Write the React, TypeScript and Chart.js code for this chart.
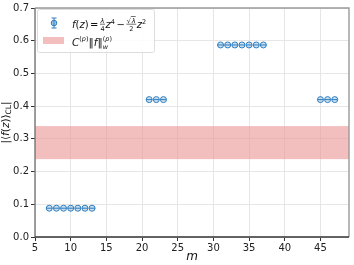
import React, { useEffect, useRef } from "react";
import { Chart, registerables } from "chart.js";

Chart.register(...registerables);

const group1M = [7, 8, 9, 10, 11, 12, 13];
const group1V = [0.088, 0.088, 0.088, 0.088, 0.088, 0.088, 0.088];
const group2M = [21, 22, 23];
const group2V = [0.42, 0.42, 0.42];
const group3M = [31, 32, 33, 34, 35, 36, 37];
const group3V = [0.587, 0.587, 0.587, 0.587, 0.587, 0.587, 0.587];
const group4M = [45, 46, 47];
const group4V = [0.42, 0.42, 0.42];
const bandLow = 0.238;
const bandHigh = 0.339;
const xTicks = [5, 10, 15, 20, 25, 30, 35, 40, 45];
const yTicks = [0, 0.1, 0.2, 0.3, 0.4, 0.5, 0.6, 0.7];

const BLUE = "#2f7fc1";
const FONT = "DejaVu Sans";

function points() {
  const out: { x: number; y: number }[] = [];
  const add = (m: number[], v: number[]) => m.forEach((x, i) => out.push({ x, y: v[i] }));
  add(group1M, group1V);
  add(group2M, group2V);
  add(group3M, group3V);
  add(group4M, group4V);
  return out;
}

const decorPlugin = {
  id: "decor",
  beforeDatasetsDraw(chart: any) {
    const { ctx, chartArea, scales } = chart;
    const y = scales.y;
    const top = y.getPixelForValue(bandHigh);
    const bot = y.getPixelForValue(bandLow);
    ctx.save();
    ctx.fillStyle = "rgba(236,150,150,0.62)";
    ctx.fillRect(chartArea.left, top, chartArea.right - chartArea.left, bot - top);
    ctx.restore();
  },
  afterDraw(chart: any) {
    const { ctx, chartArea } = chart;
    const { left, right, top, bottom } = chartArea;
    ctx.save();
    // spines
    ctx.lineWidth = 1.4;
    ctx.strokeStyle = "#9a9a9a";
    ctx.beginPath();
    ctx.moveTo(left, top);
    ctx.lineTo(right, top);
    ctx.lineTo(right, bottom);
    ctx.stroke();
    ctx.strokeStyle = "#777";
    ctx.beginPath();
    ctx.moveTo(left, top);
    ctx.lineTo(left, bottom);
    ctx.stroke();
    ctx.strokeStyle = "#333";
    ctx.beginPath();
    ctx.moveTo(left, bottom);
    ctx.lineTo(right, bottom);
    ctx.stroke();

    // x title
    ctx.fillStyle = "#111";
    ctx.font = `italic 12px ${FONT}`;
    ctx.textAlign = "center";
    ctx.textBaseline = "middle";
    ctx.fillText("m", (left + right) / 2, 257);

    // y title
    ctx.save();
    ctx.translate(6.5, (top + bottom) / 2);
    ctx.rotate(-Math.PI / 2);
    ctx.textBaseline = "middle";
    ctx.textAlign = "left";
    const parts: [string, string, number][] = [
      ["|⟨", `10.5px ${FONT}`, 0],
      ["f", `italic 10.5px ${FONT}`, 0],
      ["(", `10.5px ${FONT}`, 0],
      ["z", `italic 10.5px ${FONT}`, 0],
      [")⟩", `10.5px ${FONT}`, 0],
      ["CL", `7.5px ${FONT}`, 3],
      ["|", `10.5px ${FONT}`, 0],
    ];
    let w = 0;
    parts.forEach(([t, f]) => {
      ctx.font = f;
      w += ctx.measureText(t).width;
    });
    let cx = -w / 2;
    parts.forEach(([t, f, dy]) => {
      ctx.font = f;
      ctx.fillText(t, cx, dy);
      cx += ctx.measureText(t).width;
    });
    ctx.restore();

    // legend box
    const bx = 37.5, by = 9.5, bw = 117, bh = 43;
    ctx.fillStyle = "rgba(255,255,255,0.85)";
    ctx.strokeStyle = "#dddddd";
    ctx.lineWidth = 1;
    ctx.beginPath();
    ctx.roundRect(bx, by, bw, bh, 2);
    ctx.fill();
    ctx.stroke();

    // errorbar icon
    const ix = 54, iy = 23;
    ctx.strokeStyle = BLUE;
    ctx.lineWidth = 1;
    ctx.beginPath();
    ctx.moveTo(ix, iy - 5);
    ctx.lineTo(ix, iy + 5);
    ctx.moveTo(ix - 2.5, iy - 5);
    ctx.lineTo(ix + 2.5, iy - 5);
    ctx.moveTo(ix - 2.5, iy + 5);
    ctx.lineTo(ix + 2.5, iy + 5);
    ctx.stroke();
    ctx.fillStyle = "rgba(47,127,193,0.45)";
    ctx.beginPath();
    ctx.arc(ix, iy, 2.8, 0, Math.PI * 2);
    ctx.fill();
    ctx.stroke();

    // band icon
    ctx.fillStyle = "rgba(236,150,150,0.62)";
    ctx.fillRect(43, 37, 21, 7);

    // legend text 1
    ctx.fillStyle = "#111";
    ctx.textAlign = "left";
    ctx.textBaseline = "alphabetic";
    let x = 72;
    const base = 28;
    const FS = 10;
    const draw = (t: string, f: string, dy = 0) => {
      ctx.font = f;
      ctx.fillText(t, x, base + dy);
      x += ctx.measureText(t).width;
    };
    const frac = (num: string, den: string, sqrt = false) => {
      ctx.font = `italic 6.5px ${FONT}`;
      const nw = ctx.measureText(num).width + (sqrt ? 5 : 0);
      const dw = ctx.measureText(den).width;
      const fw = Math.max(nw, dw) + 1;
      if (sqrt) {
        ctx.font = `6.5px ${FONT}`;
        ctx.fillText("√", x + (fw - nw) / 2, base - 5.5);
        ctx.beginPath();
        ctx.moveTo(x + (fw - nw) / 2 + 4, base - 11.5);
        ctx.lineTo(x + (fw + nw) / 2, base - 11.5);
        ctx.lineWidth = 0.6;
        ctx.strokeStyle = "#111";
        ctx.stroke();
        ctx.font = `italic 6.5px ${FONT}`;
        ctx.fillText(num, x + (fw - nw) / 2 + 5, base - 5.5);
      } else {
        ctx.fillText(num, x + (fw - nw) / 2, base - 5.5);
      }
      ctx.font = `6.5px ${FONT}`;
      ctx.fillText(den, x + (fw - dw) / 2, base + 2.5);
      ctx.beginPath();
      ctx.moveTo(x, base - 3.8);
      ctx.lineTo(x + fw, base - 3.8);
      ctx.lineWidth = 0.6;
      ctx.strokeStyle = "#111";
      ctx.stroke();
      x += fw + 0.5;
    };
    draw("f", `italic ${FS}px ${FONT}`);
    draw("(", `${FS}px ${FONT}`);
    draw("z", `italic ${FS}px ${FONT}`);
    draw(")", `${FS}px ${FONT}`);
    x += 1.5;
    draw("=", `${FS}px ${FONT}`);
    x += 1.5;
    frac("λ", "4");
    draw("z", `italic ${FS}px ${FONT}`);
    draw("4", `6.5px ${FONT}`, -4.5);
    x += 1.5;
    draw("−", `${FS}px ${FONT}`);
    x += 1.5;
    frac("λ", "2", true);
    draw("z", `italic ${FS}px ${FONT}`);
    draw("2", `6.5px ${FONT}`, -4.5);

    // legend text 2
    x = 72;
    const base2 = 46;
    const draw2 = (t: string, f: string, dy = 0) => {
      ctx.font = f;
      ctx.fillText(t, x, base2 + dy);
      x += ctx.measureText(t).width;
    };
    draw2("C", `italic 10.5px ${FONT}`);
    draw2("(", `6.5px ${FONT}`, -5);
    draw2("p", `italic 6.5px ${FONT}`, -5);
    draw2(")", `6.5px ${FONT}`, -5);
    draw2("‖", `10.5px ${FONT}`);
    draw2("f", `italic 10.5px ${FONT}`);
    draw2("‖", `10.5px ${FONT}`);
    const sx = x;
    draw2("(", `6.5px ${FONT}`, -5);
    draw2("p", `italic 6.5px ${FONT}`, -5);
    draw2(")", `6.5px ${FONT}`, -5);
    x = sx;
    draw2("w", `italic 6.5px ${FONT}`, 2.5);

    ctx.restore();
  },
};

export default function App() {
  const ref = useRef<HTMLCanvasElement>(null);
  useEffect(() => {
    document.body.style.margin = "0";
    const data = points();
    const chart = new Chart(ref.current!, {
      type: "scatter",
      data: {
        datasets: [
          {
            data,
            pointStyle: "circle",
            pointRadius: 3,
            pointBorderWidth: 1,
            pointBorderColor: BLUE,
            pointBackgroundColor: "rgba(47,127,193,0.25)",
          },
          {
            data,
            pointStyle: "line",
            pointRadius: 3,
            pointBorderWidth: 1,
            pointBorderColor: BLUE,
            pointBackgroundColor: BLUE,
          },
        ],
      },
      options: {
        animation: false,
        responsive: false,
        events: [],
        layout: { padding: { top: 4, right: 2, left: 0, bottom: 0 } },
        plugins: { legend: { display: false }, tooltip: { enabled: false } },
        scales: {
          x: {
            type: "linear",
            min: 5,
            max: 49,
            afterBuildTicks: (s: any) => {
              s.ticks = xTicks.map((v) => ({ value: v }));
            },
            afterFit: (s: any) => {
              s.height = 28;
            },
            grid: {
              color: "#e6e6e6",
              lineWidth: 1,
              tickLength: 4,
              tickColor: "#333",
              drawOnChartArea: true,
            },
            border: { display: false },
            ticks: {
              color: "#222",
              font: { family: FONT, size: 10 },
              padding: 1,
              maxRotation: 0,
              autoSkip: false,
            },
          },
          y: {
            min: 0,
            max: 0.7,
            afterBuildTicks: (s: any) => {
              s.ticks = yTicks.map((v) => ({ value: v }));
            },
            afterFit: (s: any) => {
              s.width = 35;
            },
            grid: {
              color: "#e6e6e6",
              lineWidth: 1,
              tickLength: 4,
              tickColor: "#333",
            },
            border: { display: false },
            ticks: {
              color: "#222",
              font: { family: FONT, size: 10 },
              padding: 2,
              autoSkip: false,
              callback: (v: any) => Number(v).toFixed(1),
            },
          },
        },
      },
      plugins: [decorPlugin],
    });
    return () => chart.destroy();
  }, []);
  return (
    <div style={{ width: 354, height: 265 }}>
      <canvas ref={ref} width={354} height={265} style={{ display: "block" }} />
    </div>
  );
}
